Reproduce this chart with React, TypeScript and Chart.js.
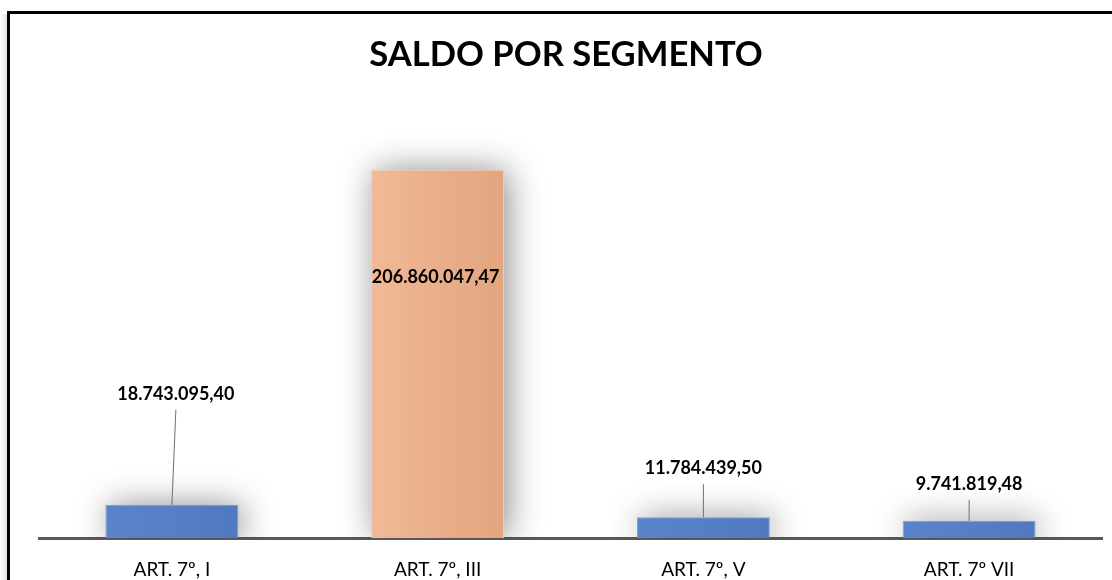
import React, { useEffect, useRef } from "react";
import { Chart, registerables } from "chart.js";

Chart.register(...registerables);

const categories = ["ART. 7º, I", "ART. 7º, III", "ART. 7º, V", "ART. 7º VII"];
const saldo = [18743095.4, 206860047.47, 11784439.5, 9741819.48];
const title = "SALDO POR SEGMENTO";

const barColors = ["#5680C6", "#EAAE86", "#5680C6", "#5680C6"];
const barLight = ["#5A84CA", "#F1B996", "#5A84CA", "#5A84CA"];
const barDark = ["#5079C2", "#E2A57E", "#5079C2", "#5079C2"];
const barBorders = ["#7C9DD4", "#F3CDB2", "#7C9DD4", "#7C9DD4"];
// label placement (pixels relative to bar top) and horizontal nudge
const labelDy = [-111, 107, -49, -37];
const labelDx = [4, -2, 0, 0];

const fmt = (v: number) => {
  const [i, d] = v.toFixed(2).split(".");
  return i.replace(/\B(?=(\d{3})+(?!\d))/g, ".") + "," + d;
};

const FONT = "Lato, 'Open Sans', sans-serif";
const W = 1112;
const H = 589;

export default function App() {
  const ref = useRef<HTMLCanvasElement>(null);
  useEffect(() => {
    if (!ref.current) return;
    const framePlugin = {
      id: "frame",
      beforeDraw(chart: any) {
        const c = chart.ctx;
        c.save();
        c.fillStyle = "#fff";
        c.fillRect(0, 0, chart.width, chart.height);
        const g = c.createLinearGradient(0, 0, 8, 0);
        g.addColorStop(0, "rgba(0,0,0,0)");
        g.addColorStop(1, "rgba(0,0,0,0.12)");
        c.fillStyle = g;
        c.fillRect(0, 14, 8, chart.height - 14);
        c.strokeStyle = "#000";
        c.lineWidth = 3;
        c.beginPath();
        c.moveTo(8.5, chart.height);
        c.lineTo(8.5, 12.5);
        c.lineTo(chart.width, 12.5);
        c.stroke();
        c.fillStyle = "#000";
        c.font = `bold 34.6px ${FONT}`;
        c.textAlign = "center";
        c.textBaseline = "middle";
        c.fillText(title, 566, 55);
        c.restore();
      },
      beforeDatasetsDraw(chart: any) {
        const c = chart.ctx;
        const area = chart.chartArea;
        const meta = chart.getDatasetMeta(0);
        c.save();
        c.beginPath();
        c.rect(0, 0, chart.width, area.bottom);
        c.clip();
        meta.data.forEach((bar: any) => {
          const { x, y, base, width } = bar.getProps(["x", "y", "base", "width"], true);
          c.shadowColor = "rgba(0,0,0,0.45)";
          c.shadowBlur = 32;
          c.shadowOffsetX = 10000 + 4;
          c.shadowOffsetY = 0;
          c.fillStyle = "#000";
          c.fillRect(x - width / 2 - 10000, y, width, base - y);
        });
        c.restore();
      },
      afterDatasetsDraw(chart: any) {
        const c = chart.ctx;
        const meta = chart.getDatasetMeta(0);
        c.save();
        c.font = `bold 18px ${FONT}`;
        c.textAlign = "center";
        c.textBaseline = "middle";
        meta.data.forEach((bar: any, i: number) => {
          const lx = bar.x + labelDx[i];
          const ly = bar.y + labelDy[i];
          if (labelDy[i] < 0) {
            c.strokeStyle = "#6f6f6f";
            c.lineWidth = 1;
            c.beginPath();
            c.moveTo(lx, ly + 16);
            c.lineTo(bar.x, bar.y);
            c.stroke();
          }
          c.fillStyle = "#000";
          c.fillText(fmt(saldo[i]), lx, ly);
        });
        c.restore();
      },
    };
    const chart = new Chart(ref.current, {
      type: "bar",
      data: {
        labels: categories,
        datasets: [
          {
            data: saldo,
            backgroundColor: (ctx: any) => {
              const ch = ctx.chart;
              const i = ctx.dataIndex;
              if (!ch.chartArea || !ch.scales.x) return barColors[i];
              const cx = ch.scales.x.getPixelForValue(i);
              const w = ch.chartArea.width / categories.length / 2;
              const g = ch.ctx.createLinearGradient(cx - w / 2, 0, cx + w / 2, 0);
              g.addColorStop(0, barLight[i]);
              g.addColorStop(1, barDark[i]);
              return g;
            },
            borderColor: barBorders,
            borderWidth: 1,
            categoryPercentage: 1,
            barPercentage: 0.5,
          },
        ],
      },
      options: {
        animation: false,
        responsive: false,
        layout: { padding: { top: 100, left: 39, right: 10, bottom: -12 } },
        plugins: {
          legend: { display: false },
          title: { display: false },
          tooltip: { enabled: false },
        },
        scales: {
          x: {
            grid: { display: false, drawTicks: false },
            border: { display: true, color: "#595959", width: 3 },
            ticks: { color: "#000", font: { family: FONT, size: 19 }, padding: 20 },
          },
          y: {
            display: false,
            min: 0,
            max: 246000000,
          },
        },
      },
      plugins: [framePlugin],
    });
    return () => chart.destroy();
  }, []);
  return (
    <div style={{ position: "absolute", left: 0, top: 0, width: W, height: 580, overflow: "hidden" }}>
      <canvas ref={ref} width={W} height={H} style={{ display: "block" }} />
    </div>
  );
}
